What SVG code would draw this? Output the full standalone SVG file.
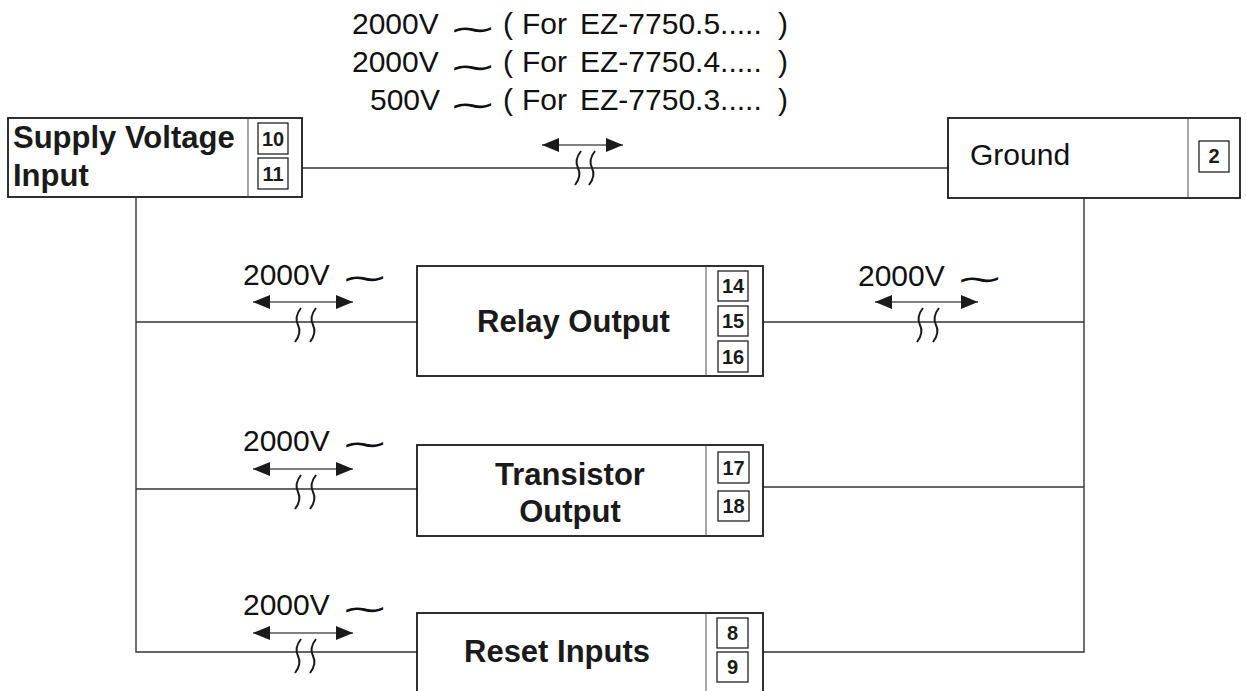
<svg xmlns="http://www.w3.org/2000/svg" xmlns:xlink="http://www.w3.org/1999/xlink" width="1246" height="691" viewBox="0 0 1246 691">
<style>
.box{fill:#fff;stroke:#1a1a1a;stroke-width:1.8}
.div{stroke:#777;stroke-width:1.3;fill:none}
.term{fill:#fff;stroke:#222;stroke-width:1.3}
.tn{font-family:"Liberation Sans",Arial,sans-serif;font-weight:bold;font-size:20px;fill:#1a1a1a;text-anchor:middle}
.bl{font-family:"Liberation Sans",Arial,sans-serif;font-weight:bold;font-size:31px;fill:#1a1a1a}
.rg{font-family:"Liberation Sans",Arial,sans-serif;font-size:30px;fill:#111}
.tl{font-family:"DejaVu Sans",sans-serif;font-size:28px;fill:#111}
.wire{stroke:#333;stroke-width:1.4;fill:none}
.arr{stroke:#555;stroke-width:1.6;fill:none;marker-start:url(#ah);marker-end:url(#ah)}
.brk{stroke:#1a1a1a;stroke-width:2;fill:none}
</style>
<defs>
<marker id="ah" markerUnits="userSpaceOnUse" markerWidth="18" markerHeight="14" refX="17" refY="7" orient="auto-start-reverse">
<path d="M0,0 L17,7 L0,14 Z" fill="#1a1a1a"/>
</marker>
<path id="bm" d="M3,-17 Q-4,-8 0,0 T-3,17" class="brk"/>
</defs>

<g id="connectors">
<path class="wire" d="M302,168 H948"/>
<path class="wire" d="M136,197 V652 H417"/>
<path class="wire" d="M136,322 H417"/>
<path class="wire" d="M136,489 H417"/>
<path class="wire" d="M1084,198 V652 H763"/>
<path class="wire" d="M763,322 H1084"/>
<path class="wire" d="M763,487 H1084"/>
<line class="arr" x1="542" y1="145" x2="623" y2="145"/>
<line class="arr" x1="253" y1="302" x2="353" y2="302"/>
<line class="arr" x1="875" y1="302" x2="978" y2="302"/>
<line class="arr" x1="253" y1="469" x2="353" y2="469"/>
<line class="arr" x1="253" y1="633" x2="353" y2="633"/>
<use xlink:href="#bm" x="578" y="168"/>
<use xlink:href="#bm" x="592" y="168"/>
<use xlink:href="#bm" x="298" y="325"/>
<use xlink:href="#bm" x="313" y="325"/>
<use xlink:href="#bm" x="920" y="325"/>
<use xlink:href="#bm" x="936" y="325"/>
<use xlink:href="#bm" x="298" y="492"/>
<use xlink:href="#bm" x="313" y="492"/>
<use xlink:href="#bm" x="298" y="656"/>
<use xlink:href="#bm" x="313" y="656"/>
</g>

<g id="top-labels">
<text class="rg" y="34"><tspan x="352">2000V</tspan><tspan x="503">(</tspan><tspan x="522">For</tspan><tspan x="580">EZ-7750.5.....</tspan><tspan x="778">)</tspan></text>
<text class="rg" y="72"><tspan x="352">2000V</tspan><tspan x="503">(</tspan><tspan x="522">For</tspan><tspan x="580">EZ-7750.4.....</tspan><tspan x="778">)</tspan></text>
<text class="rg" y="110"><tspan x="370">500V</tspan><tspan x="503">(</tspan><tspan x="522">For</tspan><tspan x="580">EZ-7750.3.....</tspan><tspan x="778">)</tspan></text>
<text class="tl" transform="translate(448,39.6) scale(2.1,1.15)">∼</text>
<text class="tl" transform="translate(448,77.6) scale(2.1,1.15)">∼</text>
<text class="tl" transform="translate(448,115.6) scale(2.1,1.15)">∼</text>
</g>

<g id="row-labels">
<text class="rg" x="243" y="285">2000V</text>
<text class="tl" transform="translate(340,288.6) scale(2.1,1.15)">∼</text>
<text class="rg" x="858" y="286">2000V</text>
<text class="tl" transform="translate(955,289.6) scale(2.1,1.15)">∼</text>
<text class="rg" x="243" y="451">2000V</text>
<text class="tl" transform="translate(340,455) scale(2.1,1.15)">∼</text>
<text class="rg" x="243" y="615">2000V</text>
<text class="tl" transform="translate(340,619.5) scale(2.1,1.15)">∼</text>
</g>

<g id="supply">
<rect class="box" x="8" y="118" width="294" height="79"/>
<line class="div" x1="248" y1="119" x2="248" y2="196"/>
<rect class="term" x="258" y="123" width="30" height="31"/>
<rect class="term" x="258" y="158" width="30" height="31"/>
<text class="tn" x="273" y="146">10</text>
<text class="tn" x="273" y="181">11</text>
<text class="bl" x="13" y="148">Supply Voltage</text>
<text class="bl" x="13" y="186">Input</text>
</g>

<g id="ground">
<rect class="box" x="948" y="118" width="292" height="80"/>
<line class="div" x1="1188" y1="119" x2="1188" y2="197"/>
<rect class="term" x="1199" y="141" width="30" height="31"/>
<text class="tn" x="1214" y="163">2</text>
<text class="rg" x="970" y="165">Ground</text>
</g>

<g id="relay">
<rect class="box" x="417" y="266" width="346" height="110"/>
<line class="div" x1="706" y1="267" x2="706" y2="375"/>
<rect class="term" x="718" y="271" width="30" height="30"/>
<rect class="term" x="718" y="306" width="30" height="30"/>
<rect class="term" x="718" y="341" width="30" height="31"/>
<text class="tn" x="733" y="293">14</text>
<text class="tn" x="733" y="328">15</text>
<text class="tn" x="733" y="364">16</text>
<text class="bl" x="477" y="332">Relay Output</text>
</g>

<g id="transistor">
<rect class="box" x="417" y="445" width="346" height="91"/>
<line class="div" x1="706" y1="446" x2="706" y2="535"/>
<rect class="term" x="718" y="452" width="31" height="31"/>
<rect class="term" x="718" y="491" width="31" height="30"/>
<text class="tn" x="733.5" y="475">17</text>
<text class="tn" x="733.5" y="513">18</text>
<text class="bl" x="570" y="485" text-anchor="middle">Transistor</text>
<text class="bl" x="570" y="522" text-anchor="middle">Output</text>
</g>

<g id="reset">
<rect class="box" x="417" y="613" width="346" height="100"/>
<line class="div" x1="706" y1="614" x2="706" y2="700"/>
<rect class="term" x="717" y="618" width="31" height="30"/>
<rect class="term" x="717" y="652" width="31" height="30"/>
<text class="tn" x="732.5" y="640">8</text>
<text class="tn" x="732.5" y="674">9</text>
<text class="bl" x="464" y="662">Reset Inputs</text>
</g>
</svg>
